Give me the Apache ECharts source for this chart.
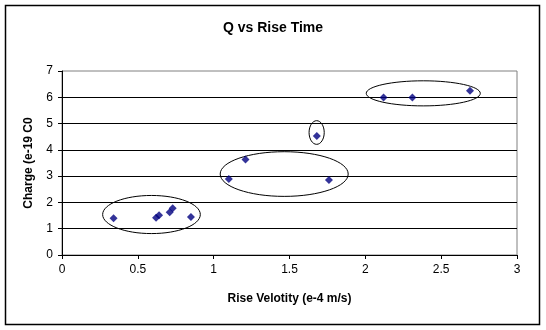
<!DOCTYPE html>
<html>
<head>
<meta charset="utf-8">
<script src="https://cdn.jsdelivr.net/npm/echarts@6/dist/echarts.min.js"></script>
<style>
  html, body { margin: 0; padding: 0; background: #fff; }
  #chart { width: 546px; height: 330px; }
</style>
</head>
<body>
<div id="chart"></div>
<script>
// Measured drops: rise velocity (e-4 m/s) and charge (e-19 C)
const riseVelocity = [0.34, 0.62, 0.64, 0.71, 0.73, 0.85, 1.10, 1.21, 1.76, 1.68, 2.12, 2.31, 2.69];
const charge       = [1.40, 1.42, 1.51, 1.63, 1.78, 1.45, 2.89, 3.63, 2.85, 4.53, 5.99, 5.99, 6.25];

// Charge groupings, outlined as ellipses: centre (x, y) and half-widths (x, y) in axis units
const clusterCenterX = [0.59, 1.465, 1.679, 2.382];
const clusterCenterY = [1.54, 3.08, 4.66, 6.15];
const clusterRadiusX = [0.322, 0.422, 0.05, 0.376];
const clusterRadiusY = [0.725, 0.85, 0.45, 0.477];

const xTicks = [0, 0.5, 1, 1.5, 2, 2.5, 3];
const yTicks = [0, 1, 2, 3, 4, 5, 6, 7];

const points = riseVelocity.map((v, i) => [v, charge[i]]);
const clusters = clusterCenterX.map((cx, i) => [cx, clusterCenterY[i], clusterRadiusX[i], clusterRadiusY[i]]);

const font = 'Liberation Sans, Arial, sans-serif';
const chart = echarts.init(document.getElementById('chart'), null, { renderer: 'canvas' });

chart.setOption({
  animation: false,
  backgroundColor: '#fff',
  title: {
    text: 'Q vs Rise Time',
    left: 'center',
    top: 16,
    textStyle: { fontFamily: font, fontSize: 14, fontWeight: 'bold', color: '#000' }
  },
  graphic: [{
    type: 'rect',
    shape: { x: 5.5, y: 5.5, width: 534, height: 319 },
    style: { fill: 'none', stroke: '#000', lineWidth: 1.5 },
    z: 0
  }],
  grid: {
    left: 62, right: 29, top: 71, bottom: 75,
    show: true, borderColor: '#808080', borderWidth: 1, backgroundColor: '#fff'
  },
  xAxis: {
    type: 'value',
    min: xTicks[0], max: xTicks[xTicks.length - 1], interval: 0.5,
    name: 'Rise Velotity (e-4 m/s)',
    nameLocation: 'middle',
    nameGap: 38,
    nameTextStyle: { fontFamily: font, fontSize: 12, fontWeight: 'bold', color: '#000' },
    axisLine: { show: true, lineStyle: { color: '#000', width: 1 } },
    axisTick: { show: true, inside: false, length: 4, lineStyle: { color: '#000' } },
    axisLabel: { fontFamily: font, fontSize: 12, color: '#000', margin: 9 },
    splitLine: { show: false }
  },
  yAxis: {
    type: 'value',
    min: yTicks[0], max: yTicks[yTicks.length - 1], interval: 1,
    name: 'Charge (e-19 C0',
    nameLocation: 'middle',
    nameGap: 27,
    nameRotate: 90,
    nameTextStyle: { fontFamily: font, fontSize: 12, fontWeight: 'bold', color: '#000' },
    axisLine: { show: true, lineStyle: { color: '#000', width: 1 } },
    axisTick: { show: true, inside: false, length: 4, lineStyle: { color: '#000' } },
    axisLabel: { fontFamily: font, fontSize: 12, color: '#000', margin: 9 },
    splitLine: { show: true, showMaxLine: false, lineStyle: { color: '#000', width: 1 } }
  },
  series: [
    {
      type: 'custom',
      data: clusters,
      renderItem: function (params, api) {
        const c = api.coord([api.value(0), api.value(1)]);
        const s = api.size([api.value(2), api.value(3)]);
        return {
          type: 'ellipse',
          shape: { cx: c[0], cy: c[1], rx: s[0], ry: s[1] },
          style: { fill: 'none', stroke: '#000', lineWidth: 1 }
        };
      },
      z: 3
    },
    {
      type: 'scatter',
      data: points,
      symbol: 'diamond',
      symbolSize: 8,
      itemStyle: { color: '#000080' },
      z: 4
    }
  ]
});
</script>
</body>
</html>
